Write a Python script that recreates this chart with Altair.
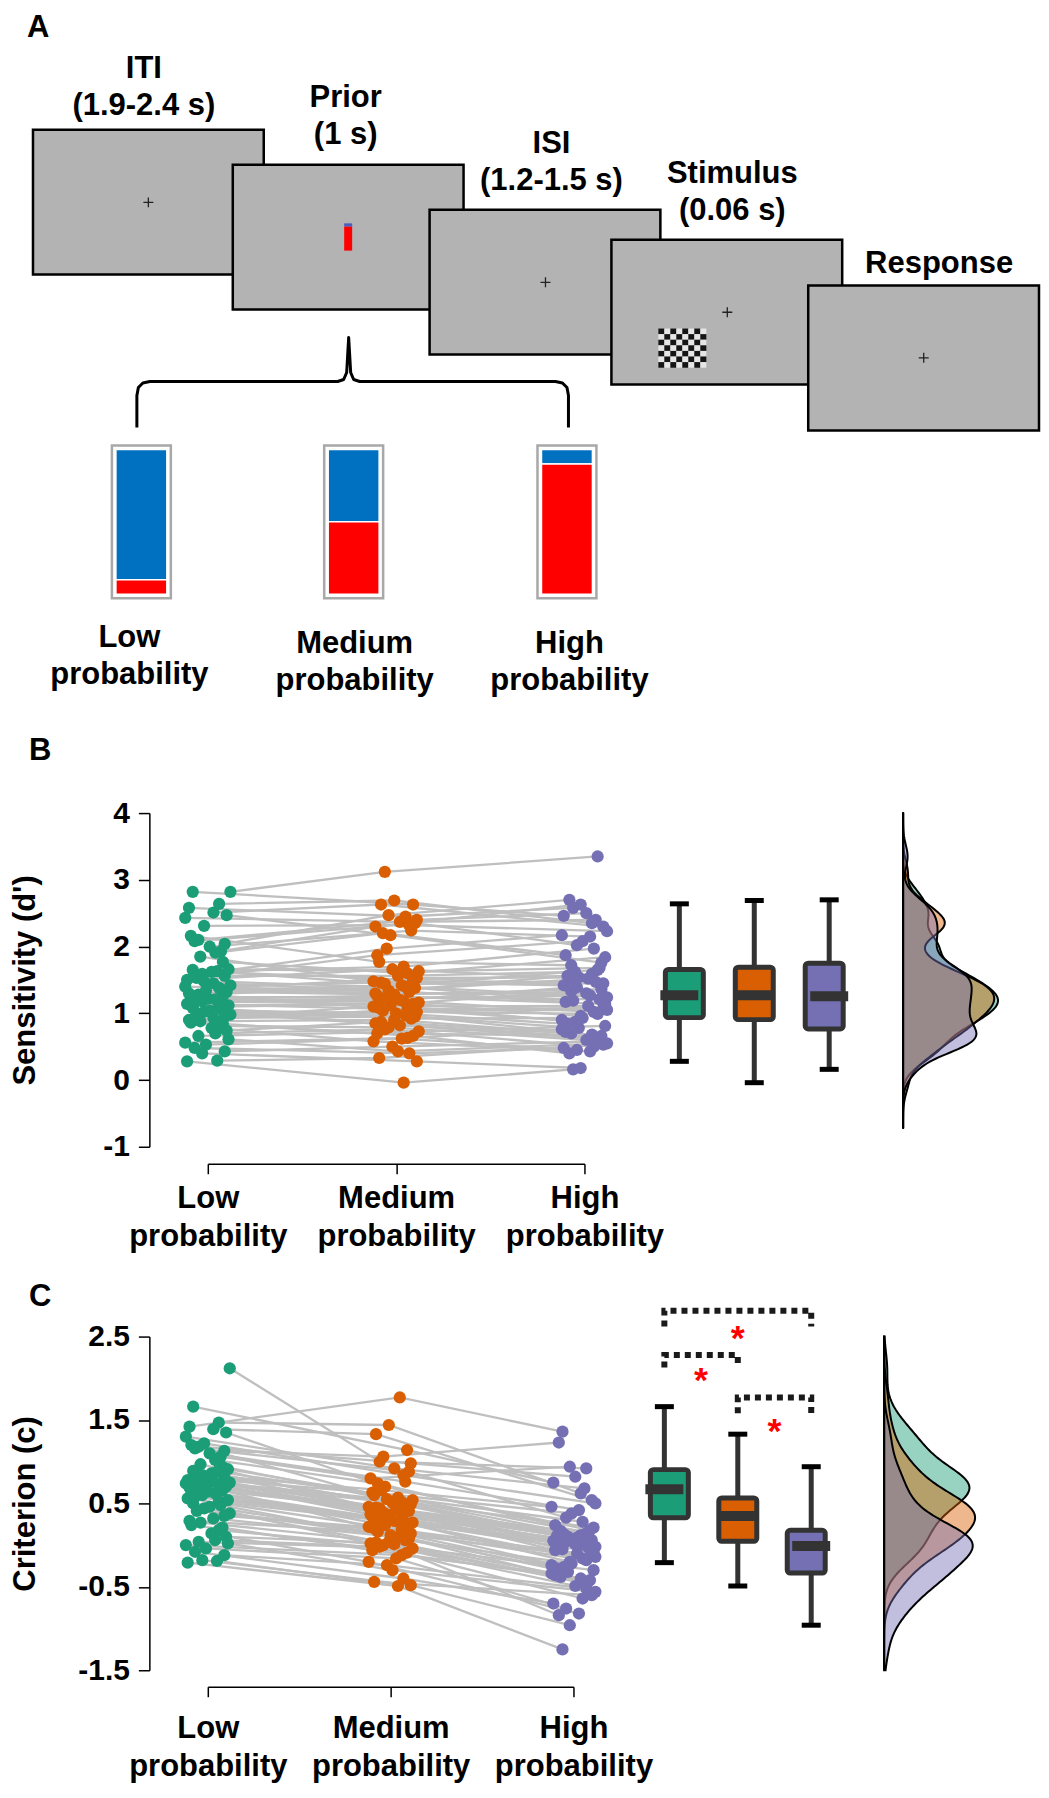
import altair as alt
import pandas as pd

FONT = "Liberation Sans"

conditions = ["Low probability", "Medium probability", "High probability"]
cond_colors = ["#1b9e77", "#d95f02", "#7570b3"]

# ---------------- Panel B: sensitivity (d') per subject ----------------
dprime_low = [0.28, 0.29, 0.40, 0.43, 0.48,
              0.78, 0.61, 0.86, 0.70, 0.53, 0.84, 0.56, 0.81, 0.66, 0.74,
              1.02, 0.93, 1.08, 0.98, 0.88, 1.06, 0.90, 1.04, 0.95, 1.00,
              1.21, 1.14, 1.26, 1.18, 1.10, 1.24, 1.12, 1.22, 1.16, 1.19,
              1.40, 1.32, 1.48, 1.36, 1.28, 1.45, 1.30, 1.42, 1.34, 1.38,
              1.65, 1.56, 1.85, 1.62, 1.50, 1.77, 1.53, 1.66, 1.59, 1.63,
              2.16, 2.00, 2.47, 2.08, 1.91, 2.43, 1.93, 2.31, 2.04, 2.10,
              2.51, 2.58, 2.64, 2.82, 2.82]
dprime_medium = [-0.04, 0.33, 0.28, 0.50, 0.40, 0.58, 0.43,
                 0.66, 0.76, 0.62, 0.70, 0.63, 0.79, 0.73,
                 0.87, 0.82, 0.95, 0.85, 0.97, 0.90, 0.92,
                 1.04, 1.00, 1.10, 1.02, 1.12, 1.06, 1.08,
                 1.18, 1.14, 1.24, 1.16, 1.26, 1.20, 1.22,
                 1.32, 1.28, 1.38, 1.30, 1.40, 1.34, 1.36,
                 1.46, 1.42, 1.53, 1.44, 1.56, 1.48, 1.50,
                 1.66, 1.60, 1.87, 1.63, 1.97, 1.70, 1.77,
                 2.24, 2.17, 2.35, 2.20, 2.37, 2.30, 2.32,
                 2.47, 2.40, 2.63, 2.45, 2.69, 2.63, 3.12]
dprime_high = [0.16, 0.53, 0.18, 0.58, 0.48, 0.43, 0.55, 0.40, 0.50, 0.45,
               0.66, 0.76, 0.60, 0.81, 0.70, 0.62, 0.78, 0.64, 0.72, 0.68,
               0.93, 1.05, 0.84, 1.11, 0.99, 0.87, 1.08, 0.90, 1.02, 0.96,
               1.21, 1.33, 1.14, 1.39, 1.27, 1.17, 1.36, 1.19, 1.30, 1.24,
               1.50, 1.59, 1.42, 1.65, 1.54, 1.45, 1.62, 1.47, 1.56, 1.52,
               1.84, 2.08, 1.68, 2.17, 1.97, 1.72, 2.15, 1.76, 2.02, 1.87,
               2.40, 2.63, 2.23, 2.70, 2.50, 2.30, 2.58, 2.35, 2.46, 3.35]

# ---------------- Panel C: criterion (c) per subject ----------------
crit_low = [-0.21, -0.19, -0.18, -0.12, -0.08,
            0.14, 0.02, 0.24, 0.06, -0.04, 0.21, 0.00, 0.18, 0.04, 0.10,
            0.44, 0.32, 0.50, 0.38, 0.27, 0.48, 0.29, 0.46, 0.35, 0.41,
            0.62, 0.56, 0.66, 0.60, 0.52, 0.65, 0.54, 0.64, 0.58, 0.61,
            0.74, 0.70, 0.77, 0.72, 0.68, 0.76, 0.69, 0.75, 0.71, 0.73,
            0.89, 0.82, 0.97, 0.86, 0.78, 0.94, 0.80, 0.91, 0.84, 0.88,
            1.20, 1.10, 1.35, 1.16, 1.02, 1.30, 1.06, 1.22, 1.13, 1.18,
            1.39, 1.42, 1.47, 1.66, 2.12]
crit_medium = [-0.49, -0.44, -0.48, -0.24, -0.40, -0.20, -0.30,
               -0.09, -0.02, -0.16, -0.06, -0.12, 0.00, -0.04,
               0.03, 0.01, 0.08, 0.02, 0.10, 0.04, 0.06,
               0.16, 0.12, 0.22, 0.14, 0.24, 0.18, 0.20,
               0.28, 0.26, 0.32, 0.27, 0.34, 0.29, 0.30,
               0.38, 0.36, 0.41, 0.37, 0.42, 0.39, 0.40,
               0.45, 0.43, 0.49, 0.44, 0.51, 0.46, 0.47,
               0.55, 0.52, 0.63, 0.54, 0.66, 0.57, 0.60,
               0.76, 0.70, 0.88, 0.74, 0.92, 0.80, 0.84,
               1.06, 0.98, 1.33, 1.77, 1.44, 1.14, 1.00]
crit_high = [-1.25, -0.60, -0.96, -0.52, -0.70, -0.82, -0.56, -0.84, -0.64, -0.76,
             -0.42, -0.34, -0.49, -0.30, -0.38, -0.46, -0.32, -0.44, -0.36, -0.40,
             -0.22, -0.14, -0.28, -0.10, -0.18, -0.26, -0.12, -0.24, -0.16, -0.20,
             -0.03, 0.02, -0.08, 0.04, 0.00, -0.06, 0.03, -0.05, 0.01, -0.02,
             0.08, 0.12, 0.05, 0.14, 0.10, 0.06, 0.13, 0.07, 0.11, 0.09,
             0.21, 0.38, 0.15, 0.46, 0.28, 0.17, 0.42, 0.18, 0.33, 0.24,
             0.68, 0.94, 0.50, 1.23, 0.82, 0.54, 1.36, 0.62, 0.75, 0.92]

# horizontal jitter of each subject's dot (in category units)
jitter_low = [-0.11, 0.05, -0.03, 0.09, -0.07, 0.02, 0.11, -0.09, 0.04, -0.01,
              0.08, -0.12, 0.06, -0.05, 0.10, -0.02, 0.03, -0.08, 0.12, -0.04,
              0.07, -0.10, 0.01, 0.09, -0.06, 0.04, -0.11, 0.08, -0.03, 0.06,
              -0.09, 0.11, 0.00, -0.07, 0.05, -0.12, 0.10, -0.02, 0.07, -0.05,
              0.03, -0.10, 0.12, -0.01, 0.06, -0.08, 0.09, -0.04, 0.02, -0.11,
              0.08, -0.06, 0.11, -0.03, 0.05, -0.09, 0.01, 0.10, -0.07, 0.04,
              -0.12, 0.07, -0.02, 0.09, -0.05, 0.03, -0.10, 0.06, -0.08, 0.12]
jitter_medium = [0.04, -0.09, 0.11, -0.02, 0.07, -0.12, 0.01, 0.09, -0.06, 0.03,
                 -0.10, 0.06, -0.04, 0.12, -0.08, 0.02, 0.10, -0.11, 0.05, -0.01,
                 0.08, -0.07, 0.00, -0.12, 0.11, -0.03, 0.06, -0.09, 0.04, 0.09,
                 -0.05, 0.12, -0.10, 0.02, -0.07, 0.07, -0.01, 0.10, -0.11, 0.05,
                 -0.04, 0.08, -0.08, 0.03, 0.11, -0.06, 0.01, -0.12, 0.09, -0.02,
                 0.06, -0.10, 0.12, -0.05, 0.04, -0.09, 0.08, -0.03, 0.10, -0.07,
                 0.02, -0.11, 0.07, -0.04, 0.11, -0.08, 0.05, -0.01, 0.09, -0.06]
jitter_high = [-0.06, 0.10, -0.02, 0.07, -0.11, 0.03, 0.12, -0.08, 0.05, -0.04,
               0.09, -0.12, 0.01, 0.11, -0.07, 0.06, -0.03, 0.08, -0.10, 0.04,
               -0.01, 0.12, -0.09, 0.02, 0.07, -0.05, 0.10, -0.12, 0.05, -0.02,
               0.08, -0.07, 0.11, -0.04, 0.03, -0.10, 0.09, -0.06, 0.01, 0.12,
               -0.08, 0.04, -0.11, 0.07, -0.03, 0.10, -0.05, 0.06, -0.09, 0.02,
               0.11, -0.01, 0.08, -0.12, 0.05, -0.07, 0.03, 0.09, -0.04, -0.10,
               0.06, -0.02, 0.12, -0.08, 0.01, 0.10, -0.06, 0.04, -0.11, 0.07]

# significance brackets of panel C (pairs of condition positions)
sig_pairs = [(1, 3), (1, 2), (2, 3)]
sig_bracket_top = [2.81, 2.28, 1.77]
sig_bracket_end = [2.62, 2.13, 1.58]
sig_star_y = [2.58, 2.07, 1.46]

# ---------------- Panel A: schematic of a trial ----------------
stage_labels = ["ITI\n(1.9-2.4 s)", "Prior\n(1 s)", "ISI\n(1.2-1.5 s)", "Stimulus\n(0.06 s)", "Response"]
stage_label_x = [144, 346, 552, 733, 940]
stage_label_y = [77, 106, 152, 182, 272]
screen_left = [33, 233, 430, 612, 809]
screen_top = [129, 164, 209, 239, 285]
fixation_x = [148.5, 546, 728, 924.6]
fixation_y = [201.7, 281.7, 311.7, 357.3]
prob_red = [0.1, 0.5, 0.9]
prob_bar_center = [141.5, 354, 567.5]
prob_label_x = [129.5, 355, 570]
prob_label_y = [647, 653, 653]
brace_x = [137, 137, 138.5, 143, 150, 338, 344, 347, 349, 351, 354, 360, 556, 563, 567.5, 569, 569]
brace_y = [427, 395, 387, 382.5, 381, 381, 379, 372, 337, 372, 379, 381, 381, 382.5, 387, 395, 427]
panel_letters = ["A", "B", "C"]
panel_letter_x = [27, 29, 29]
panel_letter_y = [36, 760, 1306]

SCREEN_W, SCREEN_H = 231, 145


def long_table(series):
    rows = []
    jit = [jitter_low, jitter_medium, jitter_high]
    for k, (cond, vals) in enumerate(zip(conditions, series)):
        for i, v in enumerate(vals):
            rows.append({"subject": i, "cond": cond, "pos": k + 1,
                         "value": v, "xj": k + 1 + jit[k][i]})
    return pd.DataFrame(rows)


dfB = long_table([dprime_low, dprime_medium, dprime_high])
dfC = long_table([crit_low, crit_medium, crit_high])

color_enc = alt.Color("cond:N", scale=alt.Scale(domain=conditions, range=cond_colors), legend=None)
xlabel_expr = "split([''," + ",".join("'%s'" % c for c in conditions) + "][datum.value], ' ')"


def yplain(f, ydom):
    return alt.Y(f + ":Q", scale=alt.Scale(domain=ydom, nice=False, zero=False), axis=None)


def scatter_layers(df, ydom, yvals, ytitle, xrange, height, xoffset, xlabpad):
    xscale = alt.Scale(domain=[1, 3], range=xrange, nice=False, zero=False)
    x_ax = alt.X("xj:Q", scale=xscale,
                 axis=alt.Axis(values=[1, 2, 3], labelExpr=xlabel_expr, title=None, grid=False,
                               offset=xoffset, tickSize=10, tickWidth=1.5, tickColor="black",
                               domainColor="black", domainWidth=1.5, labelFont=FONT,
                               labelFontSize=31, labelFontWeight="bold", labelColor="black",
                               labelPadding=xlabpad, labelLineHeight=38, labelBaseline="top",
                               labelAlign="center", labelFlush=False, labelOverlap=False,
                               labelBound=False))
    y_ax = alt.Y("value:Q", scale=alt.Scale(domain=ydom, nice=False, zero=False),
                 axis=alt.Axis(values=yvals, labelExpr="'' + datum.value", grid=False,
                               offset=58.5, tickSize=11, tickWidth=1.5, tickColor="black",
                               domainColor="black", domainWidth=1.5, labelFont=FONT,
                               labelFontSize=30, labelFontWeight="bold", labelColor="black",
                               labelPadding=9, title=ytitle, titleFont=FONT, titleFontSize=31,
                               titleFontWeight="bold", titleColor="black", titleAngle=270,
                               titleX=-115, titleY=height / 2, titleAlign="center",
                               titleBaseline="alphabetic"))
    lines = alt.Chart(df).mark_line(color="#bfbfbf", strokeWidth=2.3).encode(
        x=x_ax, y=y_ax, detail="subject:N", order="pos:Q")
    pts = alt.Chart(df).mark_circle(size=150, opacity=1).encode(
        x=alt.X("xj:Q", scale=xscale, axis=None), y=yplain("value", ydom), color=color_enc)
    return [lines, pts]


def box_layers(df, ydom, xrange, with_sig=False):
    base = (alt.Chart(df)
            .transform_joinaggregate(q1="q1(value)", q3="q3(value)", med="median(value)",
                                     groupby=["cond"])
            .transform_calculate(lo="datum.q1 - 1.5*(datum.q3-datum.q1)",
                                 hi="datum.q3 + 1.5*(datum.q3-datum.q1)")
            .transform_filter("datum.value >= datum.lo && datum.value <= datum.hi")
            .transform_aggregate(wmin="min(value)", wmax="max(value)", q1="max(q1)",
                                 q3="max(q3)", med="max(med)", groupby=["cond", "pos"]))
    xs = alt.X("pos:Q", scale=alt.Scale(domain=[1, 3], range=xrange, nice=False, zero=False),
               axis=None)

    def ys(f):
        return yplain(f, ydom)

    rule = base.mark_rule(color="#333333", strokeWidth=5).encode(x=xs, y=ys("wmin"), y2="wmax:Q")
    cap_lo = base.mark_tick(orient="horizontal", size=19, thickness=5, color="black",
                            opacity=1).encode(x=xs, y=ys("wmin"))
    cap_hi = base.mark_tick(orient="horizontal", size=19, thickness=5, color="black",
                            opacity=1).encode(x=xs, y=ys("wmax"))
    box = base.mark_bar(width=38, stroke="#333333", strokeWidth=5, cornerRadius=3,
                        opacity=1).encode(x=xs, y=ys("q1"), y2="q3:Q", color=color_enc)
    med = base.mark_tick(orient="horizontal", size=38, thickness=10, color="#333333",
                         opacity=1).encode(x=xs, y=ys("med"))
    layers = [rule, cap_lo, cap_hi, box, med]
    if with_sig:
        rows = []
        for j, ((g1, g2), top, end) in enumerate(zip(sig_pairs, sig_bracket_top, sig_bracket_end)):
            for k, (px, py) in enumerate([(g1, end), (g1, top), (g2, top), (g2, end)]):
                rows.append({"pair": j, "k": k, "pos": px, "value": py})
        br = alt.Chart(pd.DataFrame(rows)).mark_line(
            color="#1a1a1a", strokeWidth=6, strokeDash=[6, 5], strokeCap="butt").encode(
            x=xs, y=ys("value"), detail="pair:N", order="k:Q")
        stars = pd.DataFrame({"pos": [(a + b) / 2 for a, b in sig_pairs], "value": sig_star_y,
                              "t": ["*"] * len(sig_pairs)})
        st = alt.Chart(stars).mark_text(color="red", font=FONT, fontSize=36, fontWeight="bold",
                                        baseline="alphabetic", dy=20).encode(
            x=xs, y=ys("value"), text="t:N")
        layers += [br, st]
    return layers


def density_layer(df, ydom, extent, bw, xrange):
    return (alt.Chart(df)
            .transform_density("value", groupby=["cond"], extent=extent, bandwidth=bw,
                               steps=200, as_=["v", "density"])
            .mark_area(orient="horizontal", fillOpacity=0.45, stroke="black", strokeWidth=2)
            .encode(x=alt.X("density:Q", stack=None,
                            scale=alt.Scale(zero=True, nice=False, range=xrange), axis=None),
                    y=yplain("v", ydom), color=color_enc))


H = 334
ROW_W = 800

rowB = alt.layer(
    *scatter_layers(dfB, [-1, 4], [-1, 0, 1, 2, 3, 4], "Sensitivity (d')", [0, 377], H, 17, 10),
    *box_layers(dfB, [-1, 4], [472, 622]),
    density_layer(dfB, [-1, 4], [-0.72, 4.0], 0.17, [696, 791]),
).resolve_scale(x="independent", y="independent").properties(width=ROW_W, height=H)

rowC = alt.layer(
    *scatter_layers(dfC, [-1.5, 2.5], [-1.5, -0.5, 0.5, 1.5, 2.5], "Criterion (c)", [0, 366], H, 16.5, 17),
    *box_layers(dfC, [-1.5, 2.5], [457, 604], with_sig=True),
    density_layer(dfC, [-1.5, 2.5], [-1.5, 2.5], 0.2, [677, 768]),
).resolve_scale(x="independent", y="independent").properties(width=ROW_W, height=H)

# ---------------- Panel A chart (figure coordinates) ----------------
A_W, A_H = 832, 615


def AX(f):
    return alt.X(f + ":Q", scale=alt.Scale(domain=[208, 208 + A_W], nice=False, zero=False), axis=None)


def AY(f):
    return alt.Y(f + ":Q", scale=alt.Scale(domain=[8, 8 + A_H], nice=False, zero=False, reverse=True),
                 axis=None)


bg = alt.Chart(pd.DataFrame({"x0": [8], "x1": [1041], "y0": [8], "y1": [8 + A_H]})).mark_rect(
    fill="white").encode(x=AX("x0"), x2="x1:Q", y=AY("y0"), y2="y1:Q")

scr = pd.DataFrame({"x0": screen_left, "x1": [v + SCREEN_W for v in screen_left],
                    "y0": screen_top, "y1": [v + SCREEN_H for v in screen_top]})
screens = alt.Chart(scr).mark_rect(fill="#b3b3b3", stroke="black", strokeWidth=2.5).encode(
    x=AX("x0"), x2="x1:Q", y=AY("y0"), y2="y1:Q")

fix = alt.Chart(pd.DataFrame({"x": fixation_x, "y": fixation_y})).mark_point(
    shape="M-1,0L1,0M0,-1L0,1", size=100, color="#222222", strokeWidth=1.3, filled=False,
    opacity=1).encode(x=AX("x"), y=AY("y"))

cue = pd.DataFrame({"x0": [344.5, 344.5], "x1": [352.5, 352.5], "y0": [222.7, 226],
                    "y1": [226, 250], "fill": ["#4a5fc1", "#ff0000"]})
cue_ch = alt.Chart(cue).mark_rect().encode(x=AX("x0"), x2="x1:Q", y=AY("y0"), y2="y1:Q",
                                           fill=alt.Fill("fill:N", scale=None))

CHK_COLS, CHK_ROWS, CHK_X, CHK_Y, CHK_W, CHK_H = 8, 7, 659, 328, 6, 5.6
chk = []
for r in range(CHK_ROWS):
    for c in range(CHK_COLS):
        chk.append({"x0": CHK_X + c * CHK_W, "x1": CHK_X + (c + 1) * CHK_W,
                    "y0": CHK_Y + r * CHK_H, "y1": CHK_Y + (r + 1) * CHK_H,
                    "fill": "#151515" if (r + c) % 2 == 0 else "#e6e6e6"})
checker = alt.Chart(pd.DataFrame(chk)).mark_rect().encode(
    x=AX("x0"), x2="x1:Q", y=AY("y0"), y2="y1:Q", fill=alt.Fill("fill:N", scale=None))

brace = alt.Chart(pd.DataFrame({"x": brace_x, "y": brace_y, "i": list(range(len(brace_x)))})).mark_line(
    color="black", strokeWidth=3, strokeJoin="round").encode(x=AX("x"), y=AY("y"), order="i:Q")

BAR_TOP, BAR_BOT, BAR_HALF, INSET = 445, 598, 29.5, 4
frames = pd.DataFrame({"x0": [c - BAR_HALF for c in prob_bar_center],
                       "x1": [c + BAR_HALF for c in prob_bar_center],
                       "y0": [BAR_TOP] * 3, "y1": [BAR_BOT] * 3})
frame_ch = alt.Chart(frames).mark_rect(fill="white", stroke="#a8a8a8", strokeWidth=2.5).encode(
    x=AX("x0"), x2="x1:Q", y=AY("y0"), y2="y1:Q")
segs = []
inner_top, inner_bot = BAR_TOP + INSET, BAR_BOT - INSET
for c, p in zip(prob_bar_center, prob_red):
    split_y = inner_bot - p * (inner_bot - inner_top)
    segs.append({"x0": c - BAR_HALF + INSET, "x1": c + BAR_HALF - INSET, "y0": inner_top,
                 "y1": split_y, "fill": "#0070c0"})
    segs.append({"x0": c - BAR_HALF + INSET, "x1": c + BAR_HALF - INSET, "y0": split_y,
                 "y1": inner_bot, "fill": "#ff0000"})
seg_ch = alt.Chart(pd.DataFrame(segs)).mark_rect(stroke="white", strokeWidth=1.5).encode(
    x=AX("x0"), x2="x1:Q", y=AY("y0"), y2="y1:Q", fill=alt.Fill("fill:N", scale=None))

txt_kw = dict(font=FONT, fontSize=31, fontWeight="bold", color="black", align="center",
              baseline="alphabetic", lineBreak="\n", lineHeight=37)
stage_txt = alt.Chart(pd.DataFrame({"x": stage_label_x, "y": stage_label_y, "t": stage_labels})).mark_text(
    **txt_kw).encode(x=AX("x"), y=AY("y"), text="t:N")
prob_txt = alt.Chart(pd.DataFrame({"x": prob_label_x, "y": prob_label_y,
                                   "t": [c.replace(" ", "\n") for c in conditions]})).mark_text(
    **txt_kw).encode(x=AX("x"), y=AY("y"), text="t:N")
letters = alt.Chart(pd.DataFrame({"x": panel_letter_x, "y": panel_letter_y, "t": panel_letters})).mark_text(
    font=FONT, fontSize=31, fontWeight="bold", color="black", align="left",
    baseline="alphabetic").encode(x=AX("x"), y=AY("y"), text="t:N")

panelA = alt.layer(bg, screens, fix, cue_ch, checker, brace, frame_ch, seg_ch, stage_txt,
                   prob_txt, letters).properties(width=A_W, height=A_H)

chart = (alt.vconcat(panelA, rowB, rowC, spacing=190, bounds="flush")
         .properties(padding=0)
         .configure(font=FONT)
         .configure_view(strokeWidth=0))

chart.save("out.html", embed_options={"renderer": "svg", "actions": False})
